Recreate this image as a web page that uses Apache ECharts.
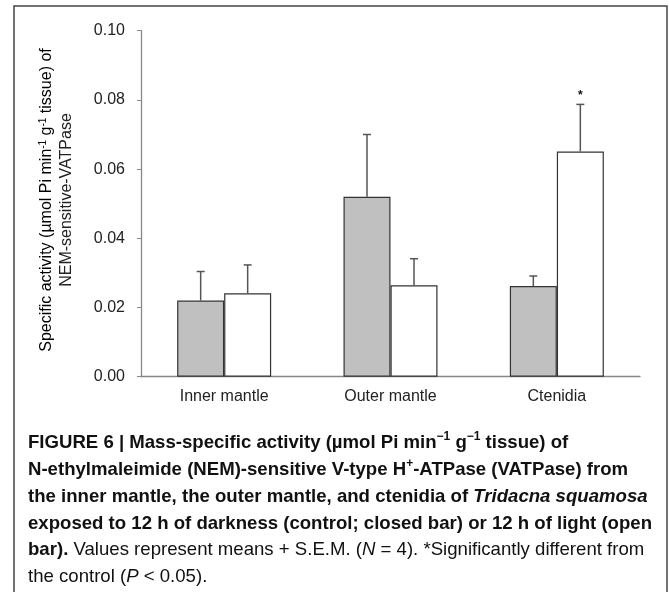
<!DOCTYPE html>
<html>
<head>
<meta charset="utf-8">
<script src="https://cdn.jsdelivr.net/npm/echarts@6/dist/echarts.min.js"></script>
<style>
html,body{margin:0;padding:0;background:#fff;}
#chart{width:669px;height:592px;}
</style>
</head>
<body>
<div id="chart"></div>
<script>
// ---- data ----
var categories = ['Inner mantle', 'Outer mantle', 'Ctenidia'];
var darkMeans = [0.0220, 0.0520, 0.0262];   // control (closed bar)
var darkSEM   = [0.0084, 0.0180, 0.0029];
var lightMeans = [0.0241, 0.0264, 0.0651];  // light (open bar)
var lightSEM   = [0.0082, 0.0077, 0.0136];
var lightSignif = [false, false, true];
var yTicks = [0.00, 0.02, 0.04, 0.06, 0.08, 0.10];

var chart = echarts.init(document.getElementById('chart'), null, {renderer: 'canvas'});
var FONT = 'Liberation Sans, Arial, Helvetica, sans-serif';
var BAR_W = 47;

function errData(means, sems, sig) {
  return means.map(function (m, i) { return [i, m, sems[i], sig ? (sig[i] ? 1 : 0) : 0]; });
}
function errRender(offset) {
  return function (params, api) {
    var i = api.value(0), m = api.value(1), e = api.value(2), s = api.value(3);
    var base = api.coord([i, m]);
    var top = api.coord([i, m + e]);
    var x = base[0] + offset;
    var children = [
      {type: 'line', shape: {x1: x, y1: base[1], x2: x, y2: top[1]}, style: {stroke: '#555', lineWidth: 1.5}},
      {type: 'line', shape: {x1: x - 4, y1: top[1], x2: x + 4, y2: top[1]}, style: {stroke: '#555', lineWidth: 1.5}}
    ];
    if (s) {
      children.push({type: 'text', x: x, y: top[1] - 3, style: {text: '*', fill: '#111', font: 'bold 12px ' + FONT, textAlign: 'center', textVerticalAlign: 'bottom'}});
    }
    return {type: 'group', children: children};
  };
}

var CF = 18.6, LH = 24;
var rich = {
  b: {fontWeight: 'bold', fontSize: CF, fontFamily: FONT, color: '#111', lineHeight: LH},
  bi: {fontWeight: 'bold', fontStyle: 'italic', fontSize: CF, fontFamily: FONT, color: '#111', lineHeight: LH},
  bs: {fontWeight: 'bold', fontSize: 12, fontFamily: FONT, color: '#111', verticalAlign: 'top', lineHeight: LH},
  n: {fontWeight: 'normal', fontSize: CF, fontFamily: FONT, color: '#333', lineHeight: LH},
  ni: {fontWeight: 'normal', fontStyle: 'italic', fontSize: CF, fontFamily: FONT, color: '#333', lineHeight: LH}
};
var capLines = [
  '{b|FIGURE 6 | Mass-specific activity (µmol Pi min}{bs|−1}{b| g}{bs|−1}{b| tissue) of}',
  '{b|N-ethylmaleimide (NEM)-sensitive V-type H}{bs|+}{b|-ATPase (VATPase) from}',
  '{b|the inner mantle, the outer mantle, and ctenidia of }{bi|Tridacna squamosa}',
  '{b|exposed to 12 h of darkness (control; closed bar) or 12 h of light (open}',
  '{b|bar).}{n| Values represent means + S.E.M. (}{ni|N}{n| = 4). *Significantly different from}',
  '{n|the control (}{ni|P}{n| < 0.05).}'
];
var graphics = [
  {type: 'polyline', shape: {points: [[14, 600], [14, 6], [667, 6], [667, 600]]}, style: {stroke: '#444', lineWidth: 1.5, fill: null}, silent: true}
];
capLines.forEach(function (t, k) {
  graphics.push({type: 'text', x: 28, y: 443 + k * 26.8, style: {text: t, rich: rich, font: 'bold ' + CF + 'px ' + FONT, fill: '#111', textAlign: 'left', textVerticalAlign: 'middle'}});
});
var ytRich = {
  r: {fontSize: 16, fontFamily: FONT, color: '#222', lineHeight: 18},
  s: {fontSize: 10, fontFamily: FONT, color: '#222', verticalAlign: 'top', lineHeight: 18}
};
graphics.push({type: 'text', x: 47, y: 200, rotation: Math.PI / 2, style: {text: '{r|Specific activity (µmol Pi min}{s|-1}{r| g}{s|-1}{r| tissue) of}', rich: ytRich, textAlign: 'center', textVerticalAlign: 'middle'}});
graphics.push({type: 'text', x: 67, y: 200, rotation: Math.PI / 2, style: {text: 'NEM-sensitive-VATPase', font: '16px ' + FONT, fill: '#222', textAlign: 'center', textVerticalAlign: 'middle'}});

chart.setOption({
  animation: false,
  backgroundColor: '#fff',
  grid: {left: 141, right: 29, top: 30.7, bottom: 215.3, containLabel: false},
  xAxis: {
    type: 'category', data: categories,
    axisLine: {lineStyle: {color: '#888', width: 1.3}},
    axisTick: {show: false},
    axisLabel: {color: '#222', fontSize: 16, fontFamily: FONT, margin: 12}
  },
  yAxis: {
    type: 'value', min: 0, max: 0.1, interval: 0.02,
    axisLine: {show: true, lineStyle: {color: '#888', width: 1.3}},
    axisTick: {show: true, inside: false, length: 4, lineStyle: {color: '#888'}},
    splitLine: {show: false},
    axisLabel: {color: '#222', fontSize: 16, fontFamily: FONT, margin: 16,
      formatter: function (v) { return v.toFixed(2); }}
  },
  series: [
    {type: 'bar', data: darkMeans, barWidth: BAR_W, barGap: '0%',
      itemStyle: {color: '#c0c0c0', borderColor: '#333', borderWidth: 1.2}},
    {type: 'bar', data: lightMeans, barWidth: BAR_W, barGap: '0%',
      itemStyle: {color: '#ffffff', borderColor: '#333', borderWidth: 1.2}},
    {type: 'custom', data: errData(darkMeans, darkSEM), renderItem: errRender(-BAR_W / 2), z: 5},
    {type: 'custom', data: errData(lightMeans, lightSEM, lightSignif), renderItem: errRender(BAR_W / 2), z: 5}
  ],
  graphic: graphics
});
</script>
</body>
</html>
